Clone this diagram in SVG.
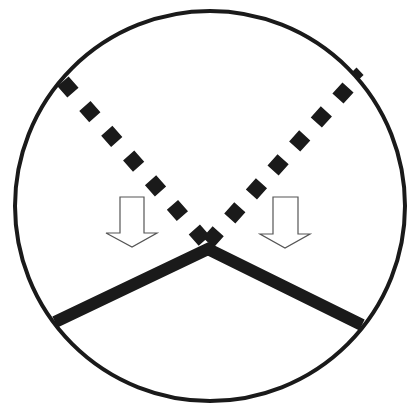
<svg xmlns="http://www.w3.org/2000/svg" width="410" height="405" viewBox="0 0 410 405">
<style>
.solid{fill:none;stroke:#1a1a1a;stroke-width:12;stroke-linejoin:miter}
.dot{fill:none;stroke:#1a1a1a;stroke-width:15}
.arrow{fill:#fff;stroke:#555;stroke-width:1.2;stroke-linejoin:miter}
</style>
<rect width="410" height="405" fill="#fff"/>
<g id="circle"><circle cx="210" cy="206" r="195" fill="none" stroke="#1a1a1a" stroke-width="4"/></g>
<g id="connectors">
<path class="dot" d="M63,81.4 L205,241.6" stroke-dasharray="15 18"/>
<path class="dot" d="M348,87.4 L208,242.6" stroke-dasharray="15 17.3"/>
<path class="solid" d="M55,322 L208,249 L362,325"/>
<path d="M354,70 L361,77.5" stroke="#1a1a1a" stroke-width="7"/>
</g>
<g id="arrow-left"><polygon class="arrow" points="120,197 144,197 144,233 157,233 132,247 106,233 120,233"/></g>
<g id="arrow-right"><polygon class="arrow" points="273,197 298,197 298,234 310,234 285,248 260,234 273,234"/></g>
</svg>
